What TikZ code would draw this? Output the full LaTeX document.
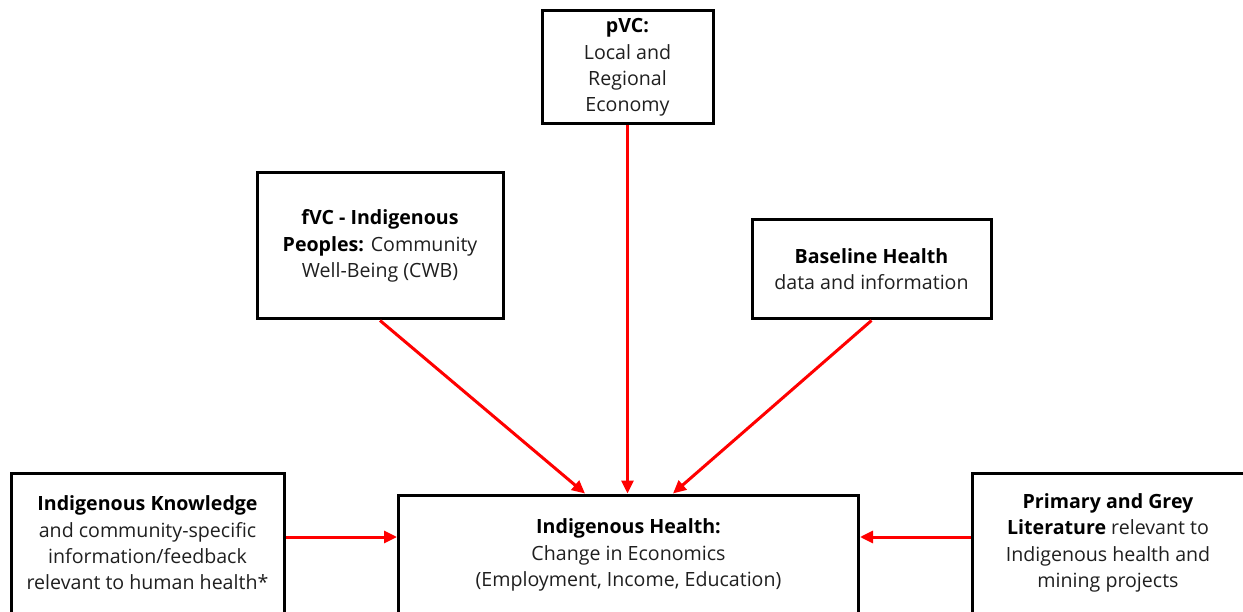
\documentclass[tikz,border=0pt]{standalone}
\usepackage{fontspec}
\setmainfont{Open Sans}
\usetikzlibrary{positioning,arrows.meta}

\begin{document}
\begin{tikzpicture}[x=1pt,y=-1pt]

	\tikzset{boxstyle/.style={draw,line width=3pt,align=center,inner sep=0pt,text=black!88,font=\fontsize{19.6}{26.3}\selectfont}}
	\tikzset{feed/.style={draw=red,line width=3pt,-{Triangle[length=13pt,width=12pt]}}}

	\newcommand\hd[1]{\textcolor{black}{\textbf{#1}}}

	\useasboundingbox (0,0) rectangle (1243,612);
	\clip (0,0) rectangle (1243,612);

	% the outcome box and its inputs
	\node[boxstyle, minimum width=460pt, minimum height=120pt] at (628.5,555) (IH)
	{\hd{Indigenous Health:}\\Change in Economics\\(Employment, Income, Education)};

	\node[boxstyle, minimum width=171pt, minimum height=113pt] at (627.5,67.5) (pVC)
	{\hd{pVC:}\\Local and\\Regional\\Economy};
	\node[boxstyle, minimum width=246pt, minimum height=146pt] at (380,246) (fVC)
	{\hd{fVC - Indigenous}\\\hd{Peoples:} Community\\Well-Being (CWB)};
	\node[boxstyle, minimum width=239pt, minimum height=99pt] at (871.5,269.5) (BH)
	{\hd{Baseline Health}\\data and information};
	\node[boxstyle, minimum width=273pt, minimum height=140pt] at (147.5,543) (IK)
	{\hd{Indigenous Knowledge}\\and community-specific\\information/feedback\\relevant to human health*};
	\node[boxstyle, minimum width=272pt, minimum height=140pt] at (1108,543) (PGL)
	{\hd{Primary and Grey}\\\hd{Literature} relevant to\\Indigenous health and\\mining projects};

	\coordinate (ikout) at ([yshift=6pt]IK.east);
	\coordinate (pglout) at ([yshift=6pt]PGL.west);

	\draw[feed] (pVC.south) -- (pVC.south |- IH.north);
	\draw[feed] (fVC.south) -- ([xshift=-43.5pt]IH.north);
	\draw[feed] (BH.south) -- ([xshift=44.5pt]IH.north);
	\draw[feed] (ikout) -- (ikout -| IH.west);
	\draw[feed] (pglout) -- (pglout -| IH.east);
\end{tikzpicture}
\end{document}
